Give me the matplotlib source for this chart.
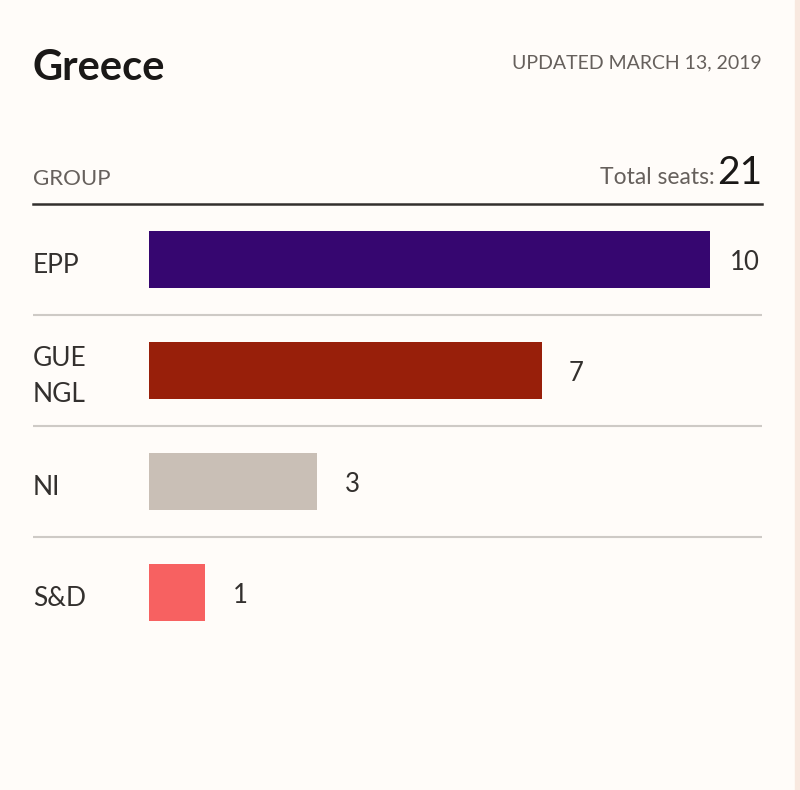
import matplotlib
matplotlib.use('Agg')
import matplotlib.pyplot as plt
from matplotlib.patches import Rectangle

# data
groups = ['EPP', 'GUE\nNGL', 'NI', 'S&D']
seats = [10, 7, 3, 1]
colors = ['#360670', '#981f0a', '#c9bfb6', '#f76161']
total_seats = 21
title = 'Greece'
updated = 'UPDATED MARCH 13, 2019'

plt.rcParams['font.family'] = ['Lato', 'DejaVu Sans']
bg = '#fffcf9'
dark = '#33302e'
grey = '#66605c'

W, H = 800, 790
fig = plt.figure(figsize=(W / 100, H / 100), dpi=100, facecolor=bg)
fig.patches.append(Rectangle((795 / W, 0), 5 / W, 1, transform=fig.transFigure,
                             color='#f8e8df', zorder=0))

# axes: from header line (y=204) down 4 rows of 111 px
ax = fig.add_axes([33 / W, (H - 648) / H, 729 / W, 444 / H])
ax.set_facecolor(bg)
ax.set_xlim(-116 / 56.1, 613 / 56.1)
ax.set_ylim(len(groups) - 0.5, -0.5)
for s in ax.spines.values():
    s.set_visible(False)
ax.set_xticks([])
ax.set_yticks([])

ypos = list(range(len(groups)))
ax.barh(ypos, seats, height=0.52, color=colors, zorder=2)

xmin = ax.get_xlim()[0]
for y, g, v in zip(ypos, groups, seats):
    ax.text(xmin, y + 0.05, g, ha='left', va='center', fontsize=19,
            color=dark, linespacing=1.55)
    ax.text(v + 0.62, y + 0.03, str(v), ha='center', va='center', fontsize=18.5,
            color=dark)

# row separators and header line
ax.axhline(-0.5, color='#33302e', lw=1.8, clip_on=False)
for y in ypos[:-1]:
    ax.axhline(y + 0.5, color='#cecac6', lw=1.5)

# header
fig.text(33 / W, 1 - 68 / H, title, ha='left', va='center', fontsize=30,
         fontweight='bold', color='#1a1817')
fig.text(762 / W, 1 - 63 / H, updated, ha='right', va='center', fontsize=14,
         color=grey)
fig.text(33 / W, 1 - 179 / H, 'GROUP', ha='left', va='center', fontsize=16,
         color=grey)
fig.text(762 / W, 1 - 173 / H, str(total_seats), ha='right', va='center',
         fontsize=28, color='#1a1817')
fig.text(715 / W, 1 - 178 / H, 'Total seats:', ha='right', va='center',
         fontsize=16.5, color=grey)

fig.savefig('out.png', dpi=100, facecolor=bg)
